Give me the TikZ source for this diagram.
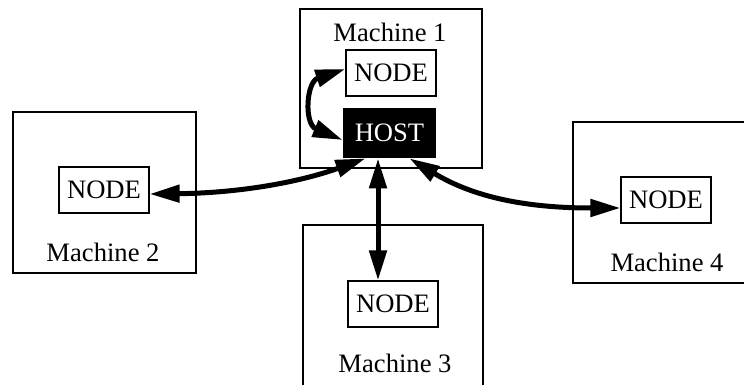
\documentclass[tikz,border=0pt]{standalone}
\usepackage{fontspec}
\setmainfont{Liberation Serif}
\usetikzlibrary{arrows.meta}
\begin{document}
\begin{tikzpicture}[x=0.5pt,y=-0.5pt,
  every node/.style={font=\fontsize{13.3}{15}\selectfont},
  machine/.style={draw,line width=0.6pt,inner sep=0pt},
  nodebox/.style={draw,line width=0.6pt,minimum width=45pt,minimum height=23pt,inner sep=0pt},
  hostbox/.style={fill=black,text=white,minimum width=46.5pt,minimum height=25pt,inner sep=0pt},
  lbl/.style={inner sep=0pt},
  conn/.style={line width=2.5pt,{Triangle[length=15pt,width=8.5pt]}-{Triangle[length=15pt,width=8.5pt]}}]
\useasboundingbox (0,0) rectangle (744,385);
\clip (0,0) rectangle (744,385);
% machine boxes
\node[machine,minimum width=91pt,minimum height=79.5pt] (m1) at (391,88.5) {};
\node[machine,minimum width=91.5pt,minimum height=80.5pt] (m2) at (104.5,192.5) {};
\node[machine,minimum width=90pt,minimum height=85pt] (m3) at (393,310) {};
\node[machine,minimum width=91pt,minimum height=80.5pt] (m4) at (664,202.5) {};
% labels
\node[lbl] (l1) at (390,32) {Machine 1};
\node[lbl] (l2) at (103,252) {Machine 2};
\node[lbl] (l3) at (395,363) {Machine 3};
\node[lbl] (l4) at (667,262) {Machine 4};
% inner boxes
\node[nodebox] (n1) at (391,73) {NODE};
\node[hostbox] (host) at (389.5,133) {HOST};
\node[nodebox] (n2) at (104,190) {NODE};
\node[nodebox] (n3) at (393,304) {NODE};
\node[nodebox] (n4) at (666,200) {NODE};
% connectors
\draw[conn] ([yshift=2pt]n1.west) .. controls (306,82) and (304,124) .. ([yshift=-3.5pt]host.west);
\draw[conn] ([xshift=-12pt]host.south) .. controls (300,182) and (240,193) .. ([yshift=-2pt]n2.east);
\draw[conn] ([xshift=-5.75pt]host.south) -- ([xshift=-7.5pt]n3.north);
\draw[conn] ([xshift=10pt]host.south) .. controls (470,195) and (520,208) .. ([yshift=-4pt]n4.west);
\end{tikzpicture}
\end{document}
